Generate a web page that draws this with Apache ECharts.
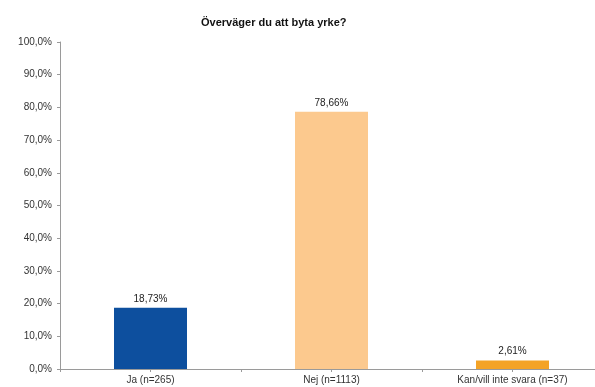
<!DOCTYPE html>
<html>
<head>
<meta charset="utf-8">
<script src="https://cdn.jsdelivr.net/npm/echarts@6/dist/echarts.min.js"></script>
<style>
  html, body { margin: 0; padding: 0; background: #fff; overflow: hidden; }
  #chart { width: 610px; height: 387px; }
</style>
</head>
<body>
<div id="chart"></div>
<script>
// Answers to "Överväger du att byta yrke?" as percentage of respondents
const categories = ['Ja (n=265)', 'Nej (n=1113)', 'Kan/vill inte svara (n=37)'];
const shares = [18.73, 78.66, 2.61];
const barColors = ['#0d4f9e', '#fcc98e', '#f4a326'];

const fmtPct = (v, d) => v.toFixed(d).replace('.', ',') + '%';
const font = 'Liberation Sans, Arial, sans-serif';

// the plot runs slightly past the right edge of the visible page
const chart = echarts.init(document.getElementById('chart'), null, { renderer: 'canvas' });
chart.setOption({
  animation: false,
  backgroundColor: '#ffffff',
  title: {
    text: 'Överväger du att byta yrke?',
    left: 196,
    top: 12,
    textStyle: { fontFamily: font, fontSize: 11, fontWeight: 'bold', color: '#111' }
  },
  grid: { left: 60, top: 42, right: 7, bottom: 18, containLabel: false },
  xAxis: [{
    type: 'category',
    data: categories,
    axisLine: { lineStyle: { color: '#9a9a9a', width: 1 } },
    axisTick: { show: true, length: 3, lineStyle: { color: '#9a9a9a' } },
    axisLabel: {
      interval: 0,
      margin: 6,
      fontFamily: font,
      fontSize: 10,
      color: '#333'
    }
  }, {
    // second set of ticks under each category centre
    type: 'category',
    position: 'bottom',
    data: categories,
    axisLine: { show: false },
    axisTick: { show: true, alignWithLabel: true, length: 3, lineStyle: { color: '#9a9a9a' } },
    axisLabel: { show: false }
  }],
  yAxis: {
    type: 'value',
    min: 0,
    max: 100,
    interval: 10,
    axisLine: { show: true, lineStyle: { color: '#9a9a9a', width: 1 } },
    axisTick: { show: true, length: 3, lineStyle: { color: '#9a9a9a' } },
    splitLine: { show: false },
    axisLabel: {
      margin: 8,
      fontFamily: font,
      fontSize: 10,
      color: '#333',
      formatter: v => fmtPct(v, 1)
    }
  },
  series: [{
    type: 'bar',
    xAxisIndex: 0,
    barWidth: 73,
    data: shares.map((v, i) => ({ value: v, itemStyle: { color: barColors[i] } })),
    label: {
      show: true,
      position: 'top',
      distance: 4,
      fontFamily: font,
      fontSize: 10,
      color: '#222',
      formatter: p => fmtPct(p.value, 2)
    }
  }]
});
</script>
</body>
</html>
